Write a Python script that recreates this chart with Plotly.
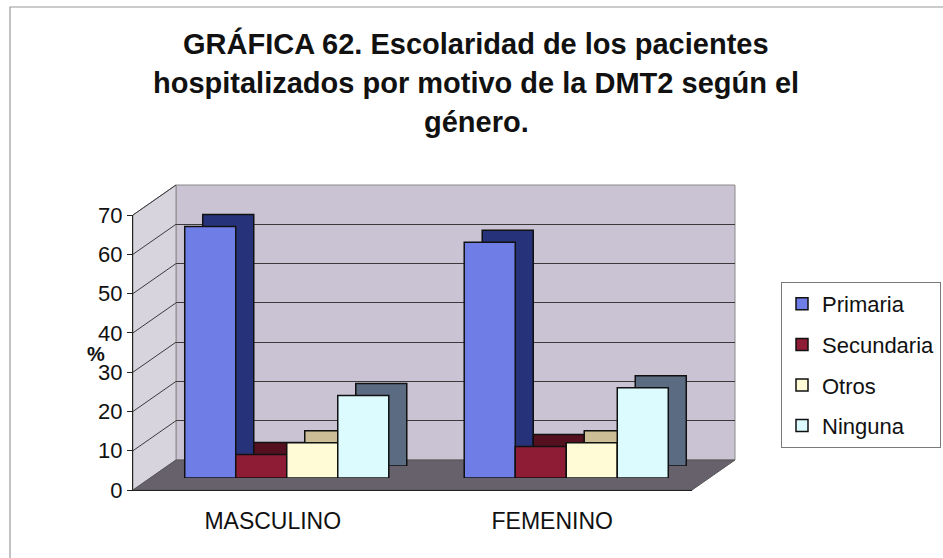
import plotly.graph_objects as go

# ---------------- data ----------------
categories = ["MASCULINO", "FEMENINO"]
series_names = ["Primaria", "Secundaria", "Otros", "Ninguna"]
primaria = [64, 60]
secundaria = [6, 8]
otros = [9, 9]
ninguna = [21, 23]
y_ticks = [0, 10, 20, 30, 40, 50, 60, 70]

series_values = [primaria, secundaria, otros, ninguna]
front_colors = ["#6f7de6", "#8e1c34", "#fffbd6", "#dcfbff"]
side_colors = ["#26337a", "#55101f", "#cbbd95", "#5b6b82"]

# ---------------- layout geometry (pixels) ----------------
W, H = 943, 558
X0, X1 = 133, 692          # front plane left / right
Y0, YT = 490, 215          # front plane value 0 / value 70
BACK = (43, 30)            # back wall offset
BARF = (14, 12)            # bar front face offset
BARB = (32, 24)            # bar back face offset
YMAX = 70


def px(x):
    return x / W


def py(y):
    return 1 - y / H


def dom(off):
    dx, dy = off
    return [px(X0 + dx), px(X1 + dx)], [py(Y0 - dy), py(YT - dy)]


fig = go.Figure()

# extrusion (back faces) on axes x2/y2
for name, vals, col in zip(series_names, series_values, side_colors):
    fig.add_trace(go.Bar(
        x=categories, y=vals, name=name, xaxis="x2", yaxis="y2",
        marker=dict(color=col, line=dict(color="#111111", width=1.5)),
        showlegend=False, hoverinfo="skip"))

# front faces on axes x3/y3
for name, vals, col in zip(series_names, series_values, front_colors):
    fig.add_trace(go.Bar(
        x=categories, y=vals, name=name, xaxis="x3", yaxis="y3",
        legendgroup=name,
        marker=dict(color=col, line=dict(color="#111111", width=1.5))))

# dummy traces for back wall (grid) axes and front label axes
fig.add_trace(go.Scatter(x=[None], y=[None], xaxis="x", yaxis="y",
                         showlegend=False, hoverinfo="skip"))
fig.add_trace(go.Scatter(x=[None], y=[None], xaxis="x4", yaxis="y4",
                         showlegend=False, hoverinfo="skip"))

xb, yb = dom(BACK)
xbb, ybb = dom(BARB)
xbf, ybf = dom(BARF)
xf, yf = dom((0, 0))

hidden = dict(showgrid=False, zeroline=False, showticklabels=False,
              showline=False, ticks="")

shapes = []
# back wall
shapes.append(dict(type="rect", xref="paper", yref="paper", layer="below",
                   x0=xb[0], x1=xb[1], y0=yb[0], y1=yb[1],
                   fillcolor="#c9c3d3", line=dict(color="#8a8a8a", width=1)))
# left wall
lw = "M {} {} L {} {} L {} {} L {} {} Z".format(
    px(X0), py(Y0), px(X0), py(YT),
    px(X0 + BACK[0]), py(YT - BACK[1]), px(X0 + BACK[0]), py(Y0 - BACK[1]))
shapes.append(dict(type="path", path=lw, xref="paper", yref="paper",
                   layer="below", fillcolor="#d8d4de",
                   line=dict(color="#8a8a8a", width=1)))
# floor
fl = "M {} {} L {} {} L {} {} L {} {} Z".format(
    px(X0), py(Y0), px(X1), py(Y0),
    px(X1 + BACK[0]), py(Y0 - BACK[1]), px(X0 + BACK[0]), py(Y0 - BACK[1]))
shapes.append(dict(type="path", path=fl, xref="paper", yref="paper",
                   layer="below", fillcolor="#67616c",
                   line=dict(color="#555555", width=1)))
# diagonal grid connectors on left wall
for v in y_ticks[1:]:
    yfr = Y0 - (Y0 - YT) * v / YMAX
    shapes.append(dict(type="line", xref="paper", yref="paper", layer="below",
                       x0=px(X0), y0=py(yfr),
                       x1=px(X0 + BACK[0]), y1=py(yfr - BACK[1]),
                       line=dict(color="#3a3a3a", width=1)))
# outer frame
shapes.append(dict(type="rect", xref="paper", yref="paper", layer="below",
                   x0=px(10), y0=py(7), x1=px(990), y1=py(600),
                   line=dict(color="#9a9a9a", width=1.2)))

title_lines = ["GRÁFICA 62. Escolaridad de los pacientes",
               "hospitalizados por motivo de la DMT2 según el",
               "género."]
title_y = [44, 83, 122]
annotations = []
for t, ty in zip(title_lines, title_y):
    annotations.append(dict(
        text="<b>" + t + "</b>", xref="paper", yref="paper",
        x=px(476), y=py(ty), xanchor="center", yanchor="middle",
        showarrow=False,
        font=dict(family="Liberation Sans, Arial", size=29, color="#111111")))
annotations.append(dict(
    text="<b>%</b>", xref="paper", yref="paper", x=px(96), y=py(354),
    xanchor="center", yanchor="middle", showarrow=False,
    font=dict(family="Liberation Sans, Arial", size=20, color="#111111")))

fig.update_layout(
    width=W, height=H,
    margin=dict(l=0, r=0, t=0, b=0, autoexpand=False),
    paper_bgcolor="white",
    plot_bgcolor="rgba(0,0,0,0)",
    barmode="group", bargap=0.27, bargroupgap=0,
    font=dict(family="Liberation Sans, Arial", color="#111111"),
    shapes=shapes,
    annotations=annotations,
    showlegend=True,
    legend=dict(x=px(781), y=py(282), xanchor="left", yanchor="top",
                bordercolor="#7a7a7a", borderwidth=1, bgcolor="white",
                font=dict(size=22, color="#111111"),
                tracegroupgap=9, traceorder="grouped"),
    xaxis=dict(domain=xb, anchor="y", range=[-0.5, 1.5], type="linear", **hidden),
    yaxis=dict(domain=yb, anchor="x", range=[0, YMAX], showgrid=True,
               gridcolor="#3a3a3a", gridwidth=1, dtick=10, zeroline=False,
               showticklabels=False, showline=False, ticks=""),
    xaxis2=dict(domain=xbb, anchor="y2", range=[-0.5, 1.5], **hidden),
    yaxis2=dict(domain=ybb, anchor="x2", range=[0, YMAX], **hidden),
    xaxis3=dict(domain=xbf, anchor="y3", range=[-0.5, 1.5], **hidden),
    yaxis3=dict(domain=ybf, anchor="x3", range=[0, YMAX], **hidden),
    xaxis4=dict(domain=xf, anchor="y4", range=[-0.5, 1.5], type="linear",
                tickvals=[0, 1], ticktext=categories, showgrid=False,
                zeroline=False, showline=True, linecolor="#222222",
                linewidth=1, ticks="", tickfont=dict(size=23),
                ticklabelstandoff=10),
    yaxis4=dict(domain=yf, anchor="x4", range=[0, YMAX], type="linear",
                tickvals=y_ticks, showgrid=False, zeroline=False,
                showline=True, linecolor="#222222", linewidth=1,
                ticks="outside", ticklen=5, tickcolor="#222222",
                tickfont=dict(size=22)),
)

fig.write_html("out.html",
               config={"displayModeBar": False},
               post_script="document.body.style.margin='0';"
                           "document.body.style.overflow='hidden';")
